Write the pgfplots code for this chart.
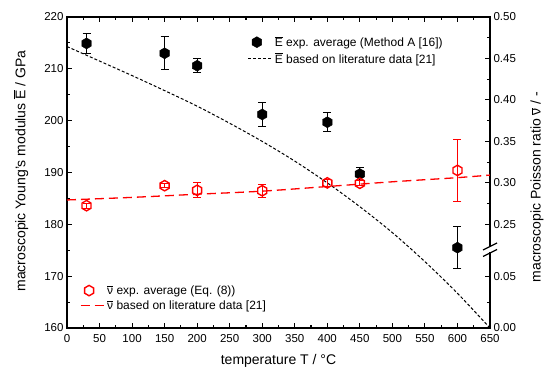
\documentclass[border=0pt]{standalone}
\usepackage{pgfplots}
\pgfplotsset{compat=1.18}
\usepackage{pgfplotstable}
\usepackage{fontspec}
\setmainfont{Liberation Sans}

\pgfdeclareplotmark{hexagon}{%
  \pgfpathmoveto{\pgfpointpolar{90}{\pgfplotmarksize}}%
  \pgfpathlineto{\pgfpointpolar{150}{\pgfplotmarksize}}%
  \pgfpathlineto{\pgfpointpolar{210}{\pgfplotmarksize}}%
  \pgfpathlineto{\pgfpointpolar{270}{\pgfplotmarksize}}%
  \pgfpathlineto{\pgfpointpolar{330}{\pgfplotmarksize}}%
  \pgfpathlineto{\pgfpointpolar{30}{\pgfplotmarksize}}%
  \pgfpathclose\pgfusepathqstroke}
\pgfdeclareplotmark{hexagon*}{%
  \pgfpathmoveto{\pgfpointpolar{90}{\pgfplotmarksize}}%
  \pgfpathlineto{\pgfpointpolar{150}{\pgfplotmarksize}}%
  \pgfpathlineto{\pgfpointpolar{210}{\pgfplotmarksize}}%
  \pgfpathlineto{\pgfpointpolar{270}{\pgfplotmarksize}}%
  \pgfpathlineto{\pgfpointpolar{330}{\pgfplotmarksize}}%
  \pgfpathlineto{\pgfpointpolar{30}{\pgfplotmarksize}}%
  \pgfpathclose\pgfusepathqfillstroke}

\pgfplotstableread{
T E err
30 214.9 2.0
150 213.0 3.2
200 210.6 1.3
300 201.2 2.4
400 199.7 1.8
450 189.7 1.2
600 175.5 4.0
}\Eexp

\pgfplotstableread{
T E
0 214.3
50 211.5
100 208.7
150 205.8
200 202.8
250 199.5
300 196.0
350 192.2
400 188.0
450 183.4
500 178.4
550 172.8
600 166.7
650 160.0
}\Elit

\pgfplotstableread{
T nu err
30 0.2725 0.003
150 0.2966 0.0025
200 0.2910 0.009
300 0.2905 0.008
400 0.3000 0.004
450 0.2995 0.003
600 0.3150 0.037
}\nuexp

\pgfplotstableread{
T nu
0 0.2794
100 0.2825
200 0.2863
300 0.2900
400 0.2956
500 0.3013
600 0.3063
650 0.3094
}\nulit

\pgfplotsset{
  common/.style={
    width=423pt, height=311pt, scale only axis,
    xmin=0, xmax=650,
    tick align=inside,
    major tick length=5pt, minor tick length=3pt,
    axis line style={line width=1.4pt},
    every tick/.style={black, line width=1.1pt},
    tick label style={font=\fontsize{11.5}{13}\selectfont},
    /pgf/number format/assume math mode=true,
    legend style={draw=none, fill=none, font=\fontsize{12}{14}\selectfont,
      row sep=1pt, inner sep=0pt},
    legend cell align=left,
  }
}

\begin{document}
\begin{tikzpicture}
\path[use as bounding box] (-67pt,-48pt) rectangle (483pt,328pt);
\begin{axis}[common,
  ymin=160, ymax=220,
  xtick={0,50,...,650}, minor x tick num=1,
  ytick={160,170,...,220}, minor y tick num=1,
  xtick pos=both, ytick pos=left,
  yticklabel style={/pgf/number format/fixed},
  xticklabel style={yshift=-3pt},
  xlabel={temperature T / °C},
  ylabel={macroscopic Young's modulus $\overline{\mbox{E}}$ / GPa},
  every axis x label/.style={at={(axis description cs:0.5,-0.106)}, anchor=center, font=\fontsize{14}{15}\selectfont},
  every axis y label/.style={at={(axis description cs:-0.109,0.505)}, anchor=center, rotate=90, font=\fontsize{14}{15}\selectfont},
  legend style={at={(0.427,0.945)}, anchor=north west},
]
\addplot[black, only marks, mark=hexagon*, mark size=5.5pt,
  error bars/.cd, y dir=both, y explicit,
  error bar style={line width=1pt, black},
  error mark options={rotate=90, mark size=4pt, line width=1pt, black}]
  table[x=T, y=E, y error=err] {\Eexp};
\addlegendentry{$\overline{\mbox{E}}$ exp. average (Method A [16])}
\addplot[black, line width=1pt, dash pattern=on 3pt off 2pt, smooth,
  legend image code/.code={\draw (0pt,0pt) -- (24pt,0pt);}]
  table[x=T, y=E] {\Elit};
\addlegendentry{$\overline{\mbox{E}}$ based on literature data [21]}
\end{axis}

\begin{axis}[common,
  ymin=0.125, ymax=0.5,
  axis x line=none, axis y line*=right,
  ytick={0.125,0.1875,0.25,0.30,0.35,0.40,0.45,0.50},
  yticklabels={0.00,0.05,0.25,0.30,0.35,0.40,0.45,0.50},
  minor ytick={0.15625,0.275,0.325,0.375,0.425,0.475},
  ylabel={macroscopic Poisson ratio $\overline{\mbox{ν}}$ / -},
  every axis y label/.style={at={(axis description cs:1.111,0.453)}, anchor=center, rotate=90, font=\fontsize{14}{15}\selectfont},
  legend style={at={(0.03,0.048)}, anchor=south west},
]
\addplot[red, only marks, mark=hexagon, mark size=5.2pt, mark options={line width=1.4pt, fill=none},
  error bars/.cd, y dir=both, y explicit,
  error bar style={line width=1pt, red},
  error mark options={rotate=90, mark size=4pt, line width=1pt, red}]
  table[x=T, y=nu, y error=err] {\nuexp};
\addlegendentry{$\overline{\mbox{ν}}$ exp. average (Eq. (8))}
\addplot[red, line width=1.3pt, dash pattern=on 9pt off 5pt, smooth,
  legend image code/.code={\draw (0pt,0pt) -- (24pt,0pt);}]
  table[x=T, y=nu] {\nulit};
\addlegendentry{$\overline{\mbox{ν}}$ based on literature data [21]}
\end{axis}

% axis break marks
\fill[white] (420pt,76.5pt) rectangle (426pt,82pt);
\draw[line width=1.2pt] (416pt,71.5pt) -- (430pt,78.5pt);
\draw[line width=1.2pt] (416pt,78pt) -- (430pt,85pt);
\end{tikzpicture}
\end{document}
